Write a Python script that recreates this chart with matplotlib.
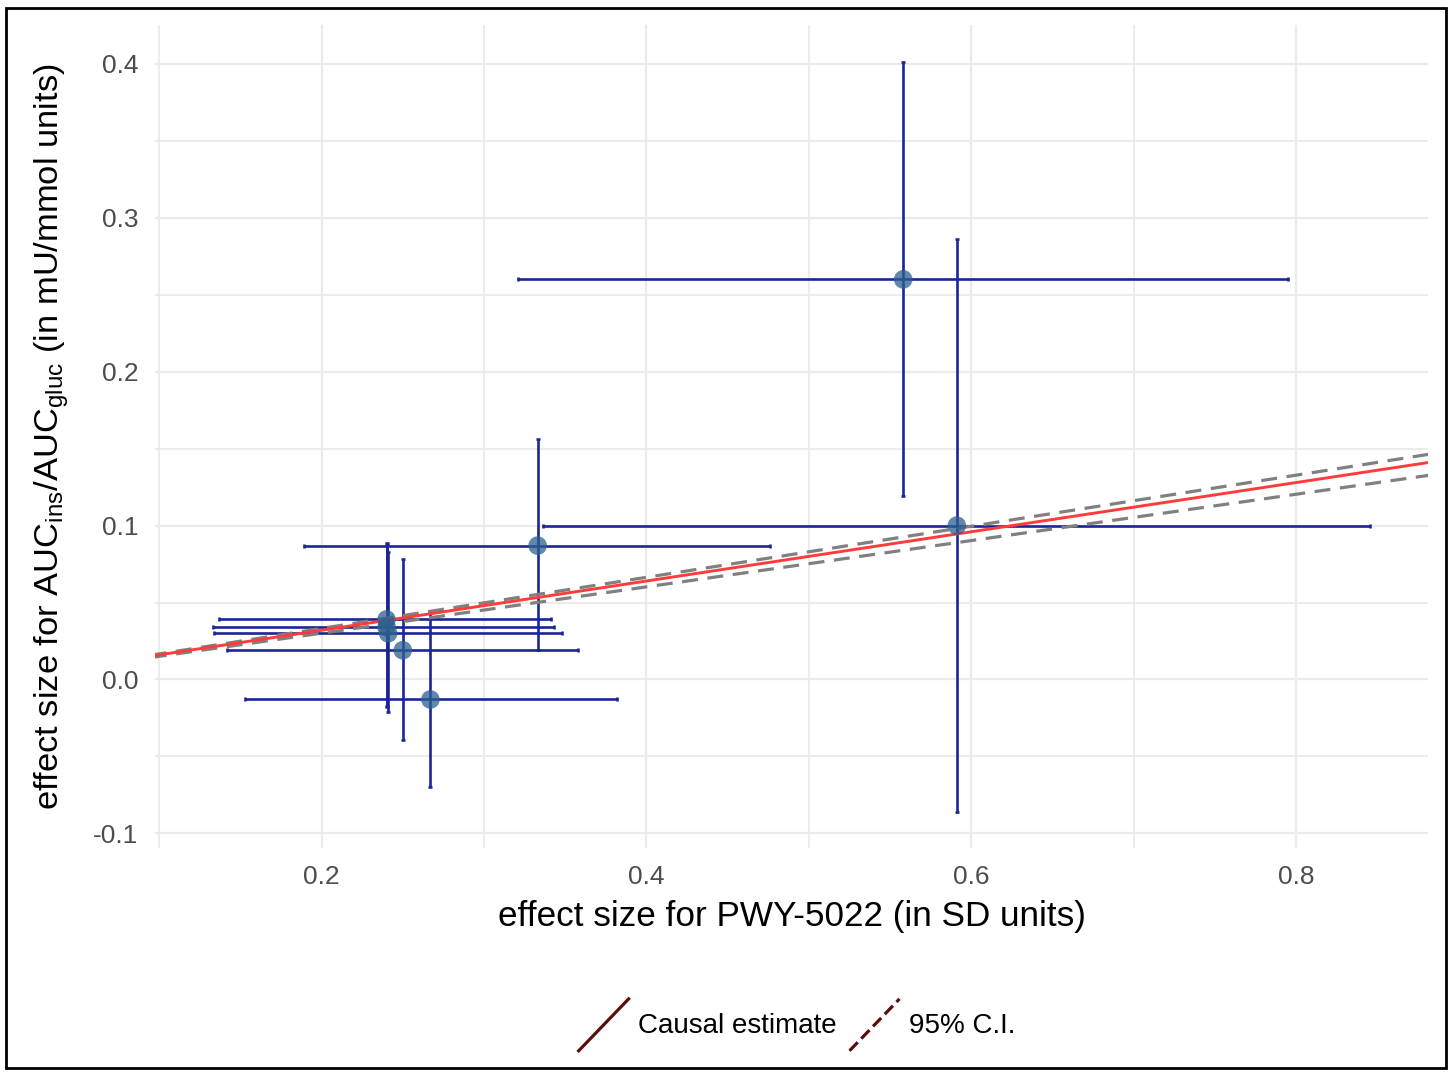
#import the libraries

import numpy as np
import matplotlib.pyplot as plt
from matplotlib.lines import Line2D
from matplotlib.patches import Rectangle
from matplotlib.legend_handler import HandlerBase
from matplotlib.ticker import MultipleLocator

plt.rcParams['font.family'] = ['Liberation Sans', 'DejaVu Sans']
plt.rcParams['mathtext.fontset'] = 'custom'
plt.rcParams['mathtext.rm'] = 'Liberation Sans'

# variant-level estimates
bx = [0.558, 0.591, 0.333, 0.240, 0.240, 0.241, 0.250, 0.267]
bx_lo = [0.321, 0.336, 0.189, 0.137, 0.133, 0.134, 0.142, 0.153]
bx_hi = [0.795, 0.845, 0.476, 0.341, 0.343, 0.348, 0.358, 0.382]
by = [0.260, 0.100, 0.087, 0.039, 0.034, 0.030, 0.019, -0.013]
by_lo = [0.119, -0.086, 0.019, -0.018, -0.017, -0.021, -0.039, -0.070]
by_hi = [0.401, 0.286, 0.156, 0.089, 0.088, 0.083, 0.078, 0.044]

# causal estimate (slope through origin) and 95% CI
estimate = 0.160
ci_lower = 0.1505
ci_upper = 0.166

bx = np.array(bx)
by = np.array(by)
xerr = [bx - np.array(bx_lo), np.array(bx_hi) - bx]
yerr = [by - np.array(by_lo), np.array(by_hi) - by]


class DiagHandler(HandlerBase):
    # ggplot style abline legend key
    def create_artists(self, legend, orig_handle, xdescent, ydescent,
                       width, height, fontsize, trans):
        l = Line2D([-xdescent, -xdescent + width],
                   [-ydescent, -ydescent + height],
                   color=orig_handle.get_color(),
                   linestyle=orig_handle.get_linestyle(),
                   linewidth=orig_handle.get_linewidth(),
                   transform=trans)
        return [l]


fig = plt.figure(figsize=(14.52, 10.72), dpi=100)
ax = fig.add_axes([155 / 1452, 1 - 848 / 1072, (1428 - 155) / 1452, (848 - 25) / 1072])

ax.errorbar(bx, by, xerr=xerr, yerr=yerr, fmt='none', ecolor='#1b2596',
            elinewidth=1.9, capsize=1.6, capthick=1.9, zorder=2)

xs = np.array([0.0, 1.0])
ax.plot(xs, estimate * xs, color='#ff3b3b', linewidth=2.1, zorder=4)
ax.plot(xs, ci_lower * xs, color='#808080', linewidth=2.3, linestyle=(0, (5, 3)), zorder=3)
ax.plot(xs, ci_upper * xs, color='#808080', linewidth=2.3, linestyle=(0, (5, 3)), zorder=3)

ax.scatter(bx, by, s=180, color='#2c6090', alpha=0.75, edgecolors='none', zorder=5)

ax.set_xlim(0.0975, 0.881)
ax.set_ylim(-0.1095, 0.4253)

ax.xaxis.set_major_locator(MultipleLocator(0.2))
ax.xaxis.set_minor_locator(MultipleLocator(0.1))
ax.yaxis.set_major_locator(MultipleLocator(0.1))
ax.yaxis.set_minor_locator(MultipleLocator(0.05))
ax.set_xticks([0.2, 0.4, 0.6, 0.8])
ax.set_xticklabels(['0.2', '0.4', '0.6', '0.8'])
ax.set_yticks([-0.1, 0.0, 0.1, 0.2, 0.3, 0.4])
ax.set_yticklabels(['-0.1', '0.0', '0.1', '0.2', '0.3', '0.4'])

ax.grid(which='major', color='#ebebeb', linewidth=1.6)
ax.grid(which='minor', color='#ebebeb', linewidth=1.3)
ax.set_axisbelow(True)
for s in ax.spines.values():
    s.set_visible(False)
ax.tick_params(which='both', length=0, labelsize=19, labelcolor='#4d4d4d', pad=12)

ax.set_xlabel('effect size for PWY-5022 (in SD units)', fontsize=25.3, labelpad=8)
ax.set_ylabel(r'effect size for AUC$_{\mathregular{ins}}$/AUC$_{\mathregular{gluc}}$ (in mU/mmol units)',
              fontsize=24.8, labelpad=16)

h1 = Line2D([], [], color='#5a0f0f', linewidth=2.3)
h2 = Line2D([], [], color='#5a0f0f', linewidth=2.3, linestyle=(0, (4, 3)))
fig.legend([h1, h2], ['Causal estimate', '95% C.I.'], loc='center',
           bbox_to_anchor=(0.549, 0.044), ncol=2, frameon=False, fontsize=20,
           handler_map={Line2D: DiagHandler()}, handlelength=1.8,
           handleheight=2.5, handletextpad=0.35, columnspacing=0.45)

# outer border
fig.patches.append(Rectangle((6 / 1452, 4 / 1072), 1440 / 1452, 1060 / 1072,
                             transform=fig.transFigure, fill=False,
                             edgecolor='black', linewidth=2))

fig.savefig('out.png', dpi=100)
